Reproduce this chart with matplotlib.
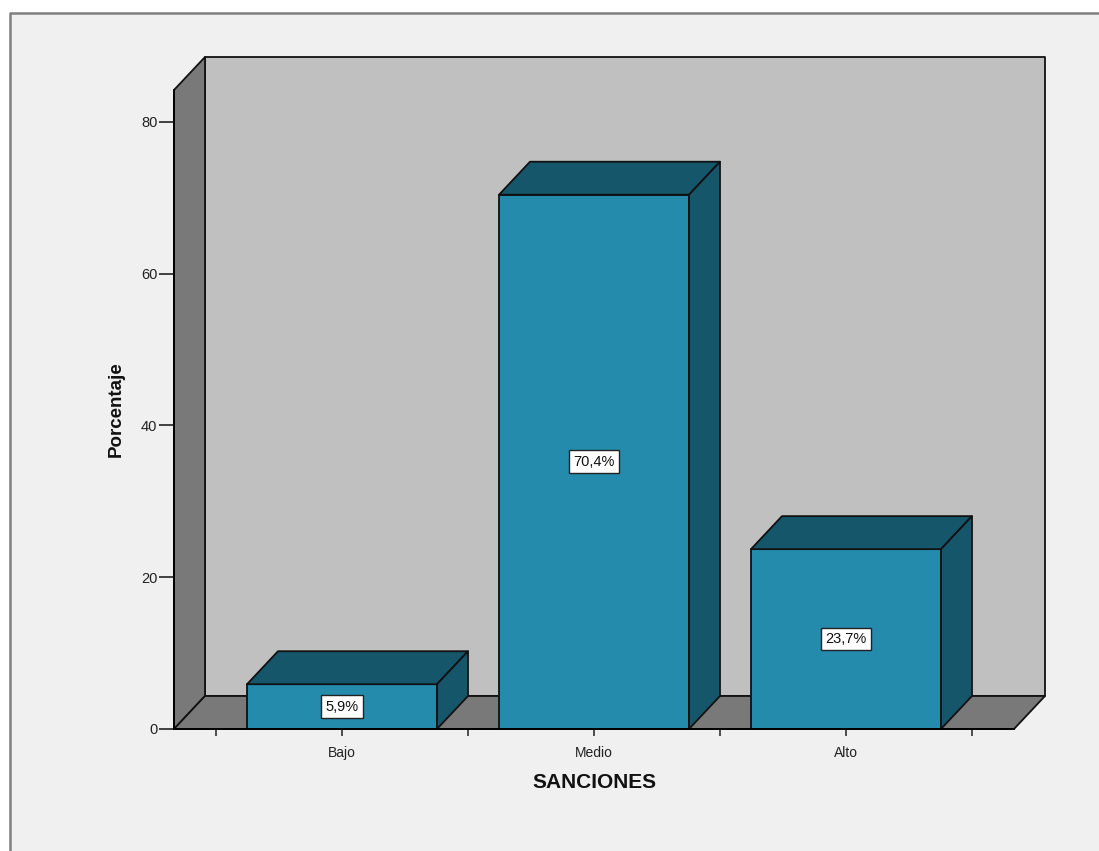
import matplotlib
matplotlib.use("Agg")
import matplotlib.pyplot as plt
from matplotlib.patches import Polygon, Rectangle

categories = ["Bajo", "Medio", "Alto"]
values = [5.9, 70.4, 23.7]
labels = ["5,9%", "70,4%", "23,7%"]
yticks = [0, 20, 40, 60, 80]

W, H = 1099, 851
plt.rcParams["font.family"] = ["Liberation Sans", "DejaVu Sans"]

fig = plt.figure(figsize=(W / 100, H / 100), dpi=100, facecolor="white")

# grey panel with a frame on top and left only
fig.patches.append(Rectangle((10 / W, 0), 1 - 10 / W, 1 - 13 / H, transform=fig.transFigure,
                             facecolor="#f0f0f0", edgecolor="none", zorder=-5))
fig.add_artist(plt.Line2D([10 / W, 10 / W, 1], [0, 1 - 13 / H, 1 - 13 / H], color="#7f7f7f", lw=1.8))

ax = fig.add_axes([174 / W, 1 - 729 / H, 840 / W, 639 / H])
ax.set_xlim(-0.6667, 2.6667)
ax.set_ylim(0, 84.2)
ax.patch.set_visible(False)

x0, x1 = ax.get_xlim()
y0, y1 = ax.get_ylim()
dx = 31 / 252   # depth of the 3d effect in data units
dy = 33 / 7.5875
edge = "#111111"
lw = 1.3


def poly(pts, color, z):
    ax.add_patch(Polygon(pts, closed=True, facecolor=color, edgecolor=edge, lw=lw,
                         joinstyle="round", clip_on=False, zorder=z))


# back wall, left wall, floor
poly([(x0 + dx, dy), (x1 + dx, dy), (x1 + dx, y1 + dy), (x0 + dx, y1 + dy)], "#c0c0c0", 1)
poly([(x0, 0), (x0 + dx, dy), (x0 + dx, y1 + dy), (x0, y1)], "#797979", 1.1)
poly([(x0, 0), (x1, 0), (x1 + dx, dy), (x0 + dx, dy)], "#797979", 1.2)

bw = 190 / 252
for i, v in enumerate(values):
    l, r = i - bw / 2, i + bw / 2
    poly([(l, 0), (r, 0), (r, v), (l, v)], "#248bad", 3)
    poly([(l, v), (r, v), (r + dx, v + dy), (l + dx, v + dy)], "#16566b", 3)
    poly([(r, 0), (r + dx, dy), (r + dx, v + dy), (r, v)], "#16566b", 3)
    ax.text(i, v / 2, labels[i], ha="center", va="center", fontsize=10.5, color="#111111", zorder=5,
            bbox=dict(boxstyle="square,pad=0.3", facecolor="white", edgecolor="#222222", lw=1))

for s in ["top", "right"]:
    ax.spines[s].set_visible(False)
ax.spines["left"].set_linewidth(lw)
ax.spines["bottom"].set_linewidth(lw)
ax.spines["left"].set_zorder(4)
ax.spines["bottom"].set_zorder(4)

ax.set_yticks(yticks)
ax.tick_params(axis="y", length=11, width=1.2, labelsize=10.5, pad=1, color="#222222", labelcolor="#222222")
ax.set_xticks(range(3))
ax.set_xticklabels(categories)
ax.set_xticks([-0.5, 0.5, 1.5, 2.5], minor=True)
ax.tick_params(axis="x", which="major", length=5, width=1.2, labelsize=10, pad=7, color="#333333", labelcolor="#222222")
ax.tick_params(axis="x", which="minor", length=5, width=1.2, color="#333333")

fig.text(594 / W, 1 - 782 / H, "SANCIONES", ha="center", va="center", fontsize=15, fontweight="bold", color="#111111")
fig.text(116 / W, 1 - 409 / H, "Porcentaje", ha="center", va="center", rotation=90, fontsize=13.5,
         fontweight="bold", color="#111111")

fig.savefig("out.png", dpi=100, facecolor="white")
